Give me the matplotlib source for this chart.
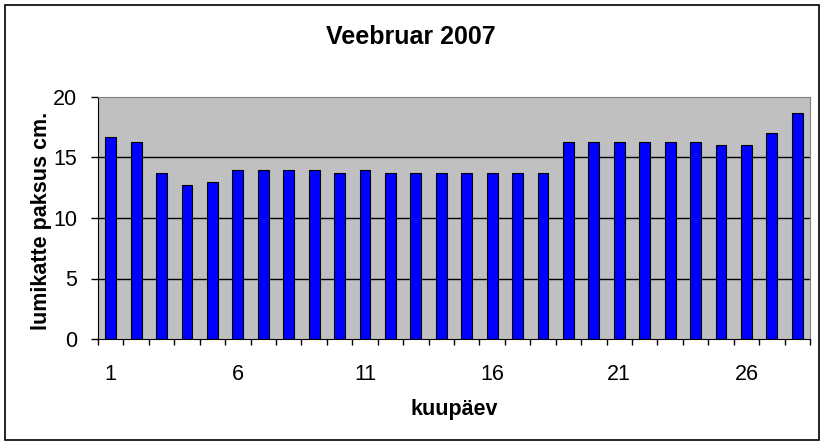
import matplotlib
matplotlib.use("Agg")
import matplotlib.pyplot as plt
import numpy as np

days = list(range(1, 29))
depth = [16.7, 16.3, 13.7, 12.7, 13.0, 14.0, 14.0, 14.0, 14.0, 13.7,
         14.0, 13.7, 13.7, 13.7, 13.7, 13.7, 13.7, 13.7, 16.3, 16.3,
         16.3, 16.3, 16.3, 16.3, 16.0, 16.0, 17.0, 18.7]
xtick_labels = ["1", "6", "11", "16", "21", "26"]
yticks = [0, 5, 10, 15, 20]

plt.rcParams['font.family'] = ['Liberation Sans', 'DejaVu Sans']

fig = plt.figure(figsize=(8.26, 4.46), dpi=100)
W, H = 826, 446
ax = fig.add_axes([98 / W, 1 - 339 / H, (810 - 98) / W, (339 - 97) / H])
ax.set_facecolor('#C0C0C0')

ax.bar(days, depth, width=0.43, color='#0000FF', edgecolor='black', linewidth=0.8, zorder=3)

ax.set_xlim(0.5, 28.5)
ax.set_ylim(0, 20)
ax.set_yticks(yticks)
ax.set_yticklabels([str(v) for v in yticks], fontsize=15.5)
for v in yticks[1:-1]:
    ax.axhline(v, color='black', linewidth=1, zorder=1)

ax.set_xticks(np.arange(0.5, 29, 1))
ax.set_xticklabels([])
ax.set_xticks([1, 6, 11, 16, 21, 26], minor=True)
ax.set_xticklabels(xtick_labels, minor=True, fontsize=15.5)
ax.tick_params(axis='x', which='major', direction='out', length=4, width=1)
ax.tick_params(axis='x', which='minor', length=0, pad=18)
ax.tick_params(axis='y', direction='out', length=5, width=1, pad=10)

ax.spines['left'].set_color('black')
ax.spines['bottom'].set_color('black')
ax.spines['top'].set_color('#808080')
ax.spines['right'].set_color('#808080')

fig.text(454 / W, 1 - 410 / H, 'kuupäev', ha='center', va='center',
         fontsize=15.5, fontweight='bold')
fig.text(42 / W, 1 - 221 / H, 'lumikatte paksus cm.', ha='center', va='center',
         rotation=90, fontsize=15.5, fontweight='bold')

fig.text(411 / W, 1 - 37 / H, 'Veebruar 2007', ha='center', va='center',
         fontsize=18, fontweight='bold')

border = plt.Rectangle((5 / W, 1 - 440 / H), (819 - 5) / W, (440 - 5) / H,
                       transform=fig.transFigure, fill=False, edgecolor='black', linewidth=1.2)
fig.patches.append(border)

fig.savefig('out.png', dpi=100, facecolor='white')
